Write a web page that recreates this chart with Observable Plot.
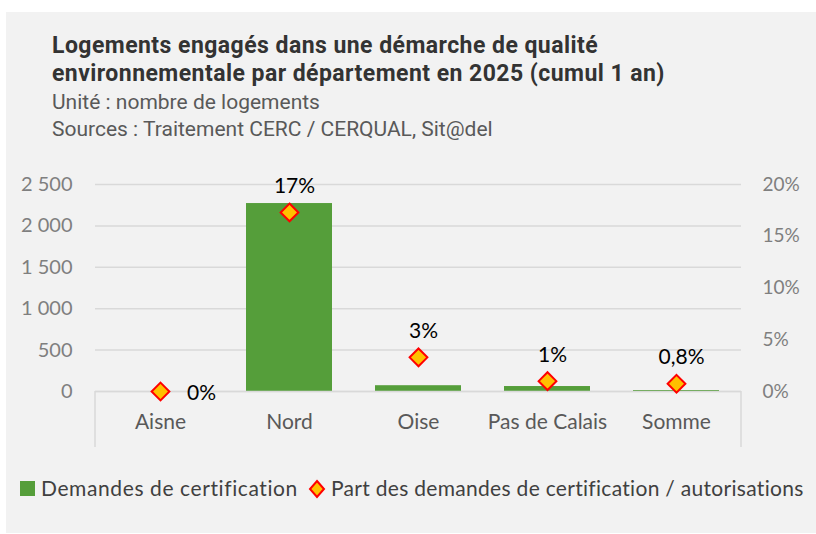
<!DOCTYPE html>
<html>
<head>
<meta charset="utf-8">
<script src="https://cdn.jsdelivr.net/npm/d3@7"></script>
<script src="https://cdn.jsdelivr.net/npm/@observablehq/plot@0.6"></script>
<style>
  html, body { margin: 0; padding: 0; background: #ffffff; }
  #page { position: relative; width: 816px; height: 534px; overflow: hidden; }
  #panel { position: absolute; left: 6px; top: 12px; width: 812px; height: 521px; background: #f2f2f2; overflow: hidden; }
  .title { position: absolute; left: 52px; font-family: Roboto, sans-serif; font-weight: 700; font-size: 23px; color: #333333; white-space: nowrap; letter-spacing: 0.45px; }
  .sub { position: absolute; left: 52px; font-family: Roboto, sans-serif; font-weight: 400; font-size: 21px; color: #595959; white-space: nowrap; }
  #chart { position: absolute; left: 0; top: 150px; }
  #legend { position: absolute; left: 0; top: 475px; width: 816px; height: 28px; font-family: Lato, sans-serif; font-size: 21px; color: #404040; white-space: nowrap; }
  .lg { position: absolute; top: 0; }
</style>
</head>
<body>
<div id="page">
  <div id="panel"></div>
  <div class="title" style="top:32px">Logements engagés dans une démarche de qualité</div>
  <div class="title" style="top:60px">environnementale par département en 2025 (cumul 1 an)</div>
  <div class="sub" style="top:90px">Unité : nombre de logements</div>
  <div class="sub" style="top:117px">Sources : Traitement CERC / CERQUAL, Sit@del</div>
  <div id="chart"></div>
  <div id="legend">
    <svg class="lg" style="left:20px;top:6px" width="16" height="16"><rect x="0" y="0" width="15" height="15" fill="#559e3a"></rect></svg>
    <span class="lg" style="left:41px;letter-spacing:0.6px">Demandes de certification</span>
    <svg class="lg" style="left:308px;top:4px" width="20" height="20"><path d="M9,2 L16,10 L9,18 L2,10 Z" fill="#ffc000" stroke="#ff0000" stroke-width="2"></path></svg>
    <span class="lg" style="left:331px;letter-spacing:0.3px">Part des demandes de certification / autorisations</span>
  </div>
</div>
<script>
// Data
const departements = ["Aisne", "Nord", "Oise", "Pas de Calais", "Somme"];
const demandes = [0, 2270, 70, 60, 12];          // nombre de logements
const parts = [0, 17.3, 3.3, 1.0, 0.75];         // % demandes / autorisations
const partLabels = ["0%", "17%", "3%", "1%", "0,8%"];
const leftTicks = [0, 500, 1000, 1500, 2000, 2500];
const rightTicks = [0, 5, 10, 15, 20];

const yMax = 2500, pMax = 20;
const k = yMax / pMax;

const rows = departements.map((d, i) => ({
  dep: d, value: demandes[i], part: parts[i], label: partLabels[i]
}));

const fmt = d3.formatLocale({decimal: ",", thousands: "\u00a0", grouping: [3], currency: ["", " €"]}).format(",");

const axisLines = (index, scales, values, dim) => {
  const g = d3.create("svg:g");
  const y0 = dim.height - dim.marginBottom;
  for (const x of [dim.marginLeft, dim.width - dim.marginRight]) {
    g.append("line").attr("x1", x).attr("x2", x).attr("y1", y0).attr("y2", y0 + 56)
      .attr("stroke", "#d9d9d9").attr("stroke-width", 1.5);
  }
  return g.node();
};

const chart = Plot.plot({
  width: 816,
  height: 310,
  marginTop: 34,
  marginBottom: 69,
  marginLeft: 95,
  marginRight: 75,
  style: {background: "transparent", fontFamily: "Lato, sans-serif", fontSize: "19px", overflow: "visible"},
  x: {domain: departements, paddingInner: 0.333, paddingOuter: 0.1667, label: null},
  y: {domain: [0, yMax], label: null},
  marks: [
    Plot.gridY(leftTicks, {stroke: "#d9d9d9", strokeOpacity: 1, strokeWidth: 1.5}),
    Plot.axisY(leftTicks, {anchor: "left", tickSize: 0, tickPadding: 23, tickFormat: fmt, color: "#7f7f7f", fontSize: 20, label: null}),
    Plot.axisY(rightTicks.map(p => p * k), {anchor: "right", tickSize: 0, tickPadding: 21, tickFormat: d => (d / k) + "%", color: "#7f7f7f", fontSize: 19, label: null}),
    Plot.axisX({tickSize: 0, tickPadding: 23, color: "#595959", fontSize: 21, label: null}),
    Plot.barY(rows, {x: "dep", y: "value", fill: "#559e3a"}),
    Plot.ruleY([0], {stroke: "#d9d9d9", strokeWidth: 1.5}),
    axisLines,
    Plot.dot(rows, {x: "dep", y: d => d.part * k, symbol: "diamond2", r: 8, fill: "#ffc000", stroke: "#ff0000", strokeWidth: 2}),
    Plot.text(rows.filter(d => d.dep !== "Aisne"), {x: "dep", y: d => d.part * k, text: "label", dy: -26, dx: 5, fill: "#000000", fontSize: 21}),
    Plot.text(rows.filter(d => d.dep === "Aisne"), {x: "dep", y: d => d.part * k, text: "label", dx: 41, dy: 2, fill: "#000000", fontSize: 21})
  ]
});
document.getElementById("chart").appendChild(chart);
</script>
</body>
</html>
